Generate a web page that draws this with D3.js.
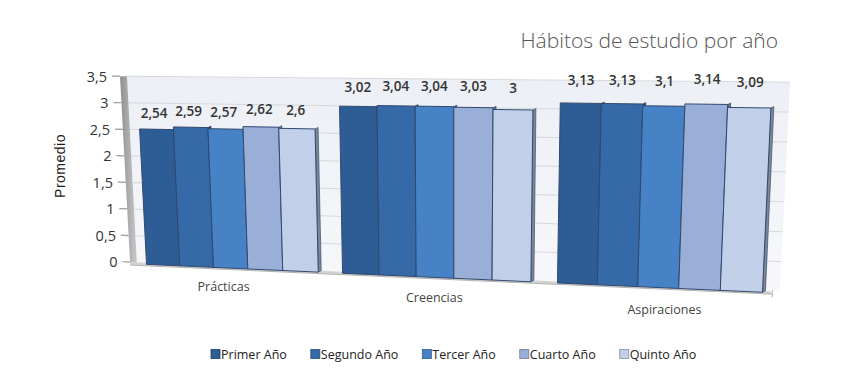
<!DOCTYPE html>
<html><head><meta charset="utf-8">
<script src="https://cdn.jsdelivr.net/npm/d3@7"></script>
<style>
html,body{margin:0;padding:0;background:#fff;}
svg{display:block;}
</style></head>
<body>
<svg id="chart" width="854" height="390"></svg>
<script>
// ---- data ----
const categories = ["Prácticas", "Creencias", "Aspiraciones"];
const series = ["Primer Año", "Segundo Año", "Tercer Año", "Cuarto Año", "Quinto Año"];
const practicas = [2.54, 2.59, 2.57, 2.62, 2.6];
const creencias = [3.02, 3.04, 3.04, 3.03, 3.0];
const aspiraciones = [3.13, 3.13, 3.1, 3.14, 3.09];
const yTicks = [0, 0.5, 1, 1.5, 2, 2.5, 3, 3.5];
const title = "Hábitos de estudio por año";
const yTitle = "Promedio";
const palette = ["#2e5c95", "#3669a7", "#4682c5", "#99afd8", "#c2cfe9"];

const valuesByCat = [practicas, creencias, aspiraciones];
const table = categories.map((c, i) => ({cat: c, vals: series.map((s, j) => ({s, v: valuesByCat[i][j]}))}));

const loc = d3.formatLocale({decimal: ",", thousands: ".", grouping: [3], currency: ["", ""]});
const fmt = loc.format("~g");

const svg = d3.select("#chart");
const defs = svg.append("defs");

// ---- scales (world) ----
const x0 = d3.scaleBand().domain(categories).range([0, 1]).paddingInner(0.119).paddingOuter(0);
const x1 = d3.scaleBand().domain(series).range([0, x0.bandwidth()]).padding(0);
const vScale = d3.scaleLinear().domain([0, 3.5]).range([0, 1]);
const color = d3.scaleOrdinal().domain(series).range(palette);

// perspective warp of the horizontal world coordinate
const warpC = 0.146;
const xWarp = d3.scaleLinear().domain([0, 1]).range([137, 772]);
const warp = t => xWarp((t + warpC * t * t) / (1 + warpC));

// projection of (screen-plane X, value) -> [x, y]
function base(X) { return 262 + 0.044 * (X - 118); }
function fullH(X) { return 3.5 * (53.1 + 0.01 * (X - 118)); }
function proj(X, v) {
  const f = vScale(v);
  const y = base(X) - f * fullH(X);
  const s = 0.97 + 0.03 * f;
  return [455 + (X - 455) * s, y];
}

// ---- back wall ----
const wallL = 127, wallR = 790;
const wg = defs.append("linearGradient").attr("id", "wallG").attr("x1", 0).attr("y1", 0).attr("x2", 0).attr("y2", 1);
wg.append("stop").attr("offset", 0).attr("stop-color", "#eceff5");
wg.append("stop").attr("offset", 1).attr("stop-color", "#f7f8fb");
svg.append("polygon")
  .attr("points", [proj(wallL, 0), proj(wallL, 3.5), proj(wallR, 3.5), proj(wallR, 0)].map(p => p.join(",")).join(" "))
  .attr("fill", "url(#wallG)");

// gridlines
svg.append("g").selectAll("line").data(yTicks.filter(d => d > 0)).join("line")
  .attr("x1", d => proj(wallL, d)[0]).attr("y1", d => proj(wallL, d)[1])
  .attr("x2", d => proj(wallR, d)[0]).attr("y2", d => proj(wallR, d)[1])
  .attr("stroke", "#d6d8dc").attr("stroke-width", 1);

// left side wall strip
const sg = defs.append("linearGradient").attr("id", "sideG").attr("x1", 0).attr("y1", 0).attr("x2", 1).attr("y2", 0);
sg.append("stop").attr("offset", 0).attr("stop-color", "#8f8f8f");
sg.append("stop").attr("offset", 1).attr("stop-color", "#c9c9c9");
svg.append("polygon")
  .attr("points", [proj(120, 0), proj(120, 3.5), proj(wallL, 3.5), proj(wallL, 0)].map(p => p.join(",")).join(" "))
  .attr("fill", "url(#sideG)");

// floor slab
const fl = [proj(120, 0), proj(wallR - 10, 0)];
svg.append("polygon")
  .attr("points", [[fl[0][0], fl[0][1]], [fl[1][0], fl[1][1]], [fl[1][0] + 2, fl[1][1] + 3], [fl[0][0], fl[0][1] + 3]].map(p => p.join(",")).join(" "))
  .attr("fill", "#d3d3d3");
svg.append("line").attr("x1", fl[0][0]).attr("y1", fl[0][1] + 3).attr("x2", fl[1][0] + 2).attr("y2", fl[1][1] + 3)
  .attr("stroke", "#b4b4b4").attr("stroke-width", 1);
svg.append("line").attr("x1", fl[1][0] + 2).attr("y1", fl[1][1] - 1).attr("x2", fl[1][0] + 2).attr("y2", fl[1][1] + 6)
  .attr("stroke", "#b0b0b0").attr("stroke-width", 1);

// y ticks + labels
const yAx = svg.append("g");
yAx.selectAll("line").data(yTicks).join("line")
  .attr("x1", d => proj(112, d)[0]).attr("y1", d => proj(112, d)[1])
  .attr("x2", d => proj(120, d)[0]).attr("y2", d => proj(120, d)[1])
  .attr("stroke", "#9a9a9a").attr("stroke-width", 1.2);
yAx.selectAll("text").data(yTicks).join("text")
  .attr("x", d => proj(107, d)[0]).attr("y", d => proj(107, d)[1])
  .attr("text-anchor", "end").attr("dominant-baseline", "central")
  .attr("font-family", "'Open Sans', sans-serif").attr("font-size", 14.5).attr("fill", "#333")
  .text(d => fmt(d));

// y title
svg.append("text").attr("transform", "translate(60,166) rotate(-90)")
  .attr("text-anchor", "middle").attr("dominant-baseline", "central")
  .attr("font-family", "'Liberation Sans', Arial, sans-serif").attr("font-size", 14).attr("fill", "#1a1a1a")
  .attr("letter-spacing", 0.5)
  .text(yTitle);

// ---- bars ----
const barDrop = 1.5;
const gBars = svg.append("g");
table.forEach(g => {
  const gx = x0(g.cat);
  g.vals.forEach((d, j) => {
    const Xl = warp(gx + x1(d.s)), Xr = warp(gx + x1(d.s) + x1.bandwidth());
    const tl = proj(Xl, d.v), tr = proj(Xr, d.v), br = proj(Xr, 0), bl = proj(Xl, 0);
    [tl, tr, br, bl].forEach(p => p[1] += barDrop);
    const c = d3.color(color(d.s));
    // side face
    gBars.append("polygon")
      .attr("points", [tr, [tr[0] + 3, tr[1] - 1.5], [br[0] + 3, br[1] - 1.5], br].map(p => p.join(",")).join(" "))
      .attr("fill", c.darker(1.2)).attr("stroke", "#2a3f60").attr("stroke-width", 0.6);
    // front face
    gBars.append("polygon")
      .attr("points", [tl, tr, br, bl].map(p => p.join(",")).join(" "))
      .attr("fill", c).attr("stroke", "#30496f").attr("stroke-width", 1);
    // value label
    const Xc = (Xl + Xr) / 2;
    const topY = proj(Xc, d.v)[1] + barDrop;
    const gap = 16 + 0.017 * (Xc - 155);
    svg.append("text").attr("x", Xc).attr("y", topY - gap)
      .attr("text-anchor", "middle").attr("dominant-baseline", "central")
      .attr("font-family", "'Open Sans', sans-serif").attr("font-weight", 600).attr("font-size", 13.5)
      .attr("fill", "#333").text(fmt(d.v));
  });
});

// category labels
svg.append("g").selectAll("text").data(categories).join("text")
  .attr("x", d => warp(x0(d) + x0.bandwidth() / 2))
  .attr("y", d => { const X = warp(x0(d) + x0.bandwidth() / 2); return base(X) + 20 + 0.009 * (X - 226); })
  .attr("text-anchor", "middle").attr("dominant-baseline", "central")
  .attr("font-family", "'Open Sans', sans-serif").attr("font-size", 12.5).attr("fill", "#444")
  .text(d => d);

// title
svg.append("text").attr("x", 778).attr("y", 40)
  .attr("text-anchor", "end").attr("dominant-baseline", "central")
  .attr("font-family", "'Open Sans', sans-serif").attr("font-weight", 300).attr("font-size", 21)
  .attr("fill", "#555").text(title);

// legend
const leg = svg.append("g");
let lx = 211;
series.forEach(s => {
  const it = leg.append("g").attr("transform", `translate(${lx},354)`);
  it.append("rect").attr("x", 0).attr("y", -4.5).attr("width", 9).attr("height", 9)
    .attr("fill", color(s)).attr("stroke", d3.color(color(s)).darker(1)).attr("stroke-width", 0.8);
  const t = it.append("text").attr("x", 10).attr("y", 0).attr("dominant-baseline", "central")
    .attr("font-family", "'Open Sans', sans-serif").attr("font-size", 12.5).attr("fill", "#222").text(s);
  lx += 10 + t.node().getComputedTextLength() + 24;
});
</script>
</body></html>
